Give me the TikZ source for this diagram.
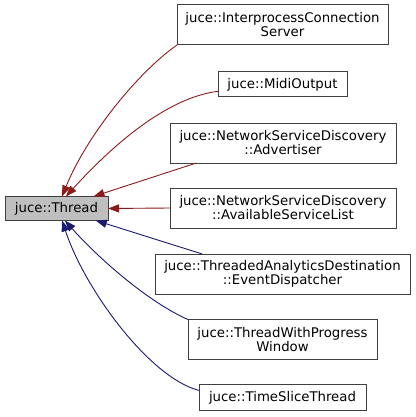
\documentclass[tikz,border=0pt]{standalone}
\usepackage{fontspec}
\setmainfont{DejaVu Sans}
\usetikzlibrary{arrows.meta}
\definecolor{privred}{HTML}{8B1A1A}
\definecolor{pubblue}{HTML}{191970}
\definecolor{boxgray}{HTML}{404040}
\definecolor{basefill}{HTML}{BFBFBF}
\begin{document}
\begin{tikzpicture}[x=1pt, y=-1pt]
\tikzset{ >={Triangle[length=11pt,width=8pt]}, inner sep=0pt, outer sep=0pt,
  cls/.style={draw=boxgray, line width=1pt, fill=white, align=center,
    minimum height=40pt, font=\fontsize{13.3}{14}\selectfont},
  base/.style={cls, fill=basefill, minimum height=24pt},
  priv/.style={->, privred, line width=0.9pt},
  pub/.style={->, pubblue, line width=0.9pt},
}

\useasboundingbox (0,0) rectangle (415,417);
%\draw [lightgray, dashed](0,0) grid[step=10pt] (415,417);

\node [base] (T) at (56.5,208.5) [minimum width=103pt] {juce::Thread};

\node [cls, minimum width=211pt] (ICS) at (282.5,25) {juce::InterprocessConnection\\Server};
\node [cls, minimum width=129pt, minimum height=25pt] (MO) at (282.5,84.5) {juce::MidiOutput};
\node [cls, minimum width=226pt] (NA) at (283,143) {juce::NetworkServiceDiscovery\\::Advertiser};
\node [cls, minimum width=226pt] (NL) at (283,208) {juce::NetworkServiceDiscovery\\::AvailableServiceList};
\node [cls, minimum width=255pt] (TA) at (282.5,274) {juce::ThreadedAnalyticsDestination\\::EventDispatcher};
\node [cls, minimum width=189pt] (TW) at (282.5,339.5) {juce::ThreadWithProgress\\Window};
\node [cls, minimum width=167pt, minimum height=26pt] (TS) at (282.5,397.7) {juce::TimeSliceThread};

\draw [priv] (ICS.south west) .. controls (137,73) and (86,137) .. (T.65);
\draw [priv] (MO.186) .. controls (165,98) and (110,148) .. (T.52);
\draw [priv] (NA.193) -- (T.18);
\draw [priv] (NL.west) -- (T.east);

\draw [pub] (TA.166) -- (T.-17);
\draw [pub] (TW.north west) .. controls (150,303) and (100,260) .. (T.-55);
\draw [pub] (TS.175) .. controls (150,378) and (85,290) .. (T.-65);
\end{tikzpicture}
\end{document}
